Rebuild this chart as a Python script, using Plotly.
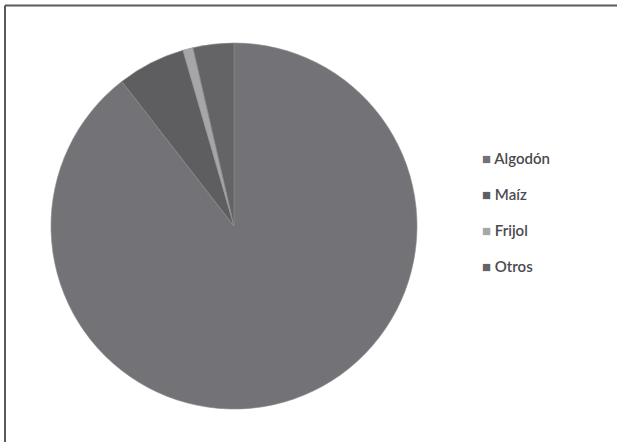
import plotly.graph_objects as go

# Share of each crop
labels = ["Algodón", "Maíz", "Frijol", "Otros"]
values = [89.5, 6.0, 0.9, 3.6]
colors = ["#737377", "#5e5e60", "#a6a6a8", "#646466"]

W, H = 617, 442

fig = go.Figure(
    go.Pie(
        labels=labels,
        values=values,
        sort=False,
        direction="clockwise",
        rotation=0,
        textinfo="none",
        hoverinfo="label+percent",
        marker=dict(colors=colors, line=dict(color="#8c8c8e", width=0.6)),
        domain=dict(x=[(234 - 183) / W, (234 + 183) / W],
                    y=[1 - (226 + 183) / H, 1 - (226 - 183) / H]),
        showlegend=False,
    )
)

# Legend entries: coloured square followed by the category name
legend_top = 158
legend_step = 36
for i, (lab, col) in enumerate(zip(labels, colors)):
    fig.add_annotation(
        x=480 / W, y=1 - (legend_top + i * legend_step) / H,
        xref="paper", yref="paper", xanchor="left", yanchor="middle",
        showarrow=False,
        text=f"<span style='color:{col};font-size:15px'>■</span> {lab}",
        font=dict(family="Lato", size=15, color="#4a4a4d", weight=600),
    )

# Frame lines along the top and left edges
fig.add_shape(type="line", xref="paper", yref="paper",
              x0=5 / W, x1=1, y0=1 - 5.5 / H, y1=1 - 5.5 / H,
              line=dict(color="#5a5a5c", width=2))
fig.add_shape(type="line", xref="paper", yref="paper",
              x0=5 / W, x1=5 / W, y0=0, y1=1 - 5.5 / H,
              line=dict(color="#5a5a5c", width=2))

fig.update_layout(
    width=W, height=H,
    margin=dict(l=0, r=0, t=0, b=0),
    paper_bgcolor="white",
    plot_bgcolor="white",
)

fig.write_html("out.html")
